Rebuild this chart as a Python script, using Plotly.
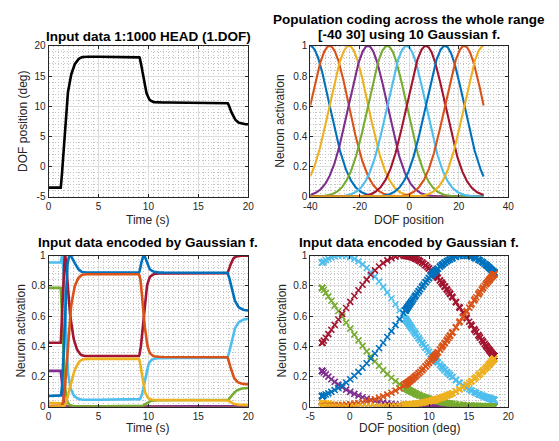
import numpy as np
import plotly.graph_objects as go

# ---------------- data ----------------
# Head trajectory (1st DOF), time in seconds and position in degrees
time_s = [
    0.0, 0.4, 0.8, 1.2,
    1.22, 1.24, 1.26, 1.28, 1.30, 1.32, 1.34, 1.36, 1.38, 1.40,
    1.42, 1.44, 1.46, 1.48, 1.50, 1.52, 1.54, 1.56, 1.58, 1.60,
    1.62, 1.64, 1.66, 1.68, 1.70, 1.72, 1.74, 1.76, 1.78, 1.80,
    1.82, 1.84, 1.86, 1.88, 1.90, 1.92, 1.94, 1.96, 1.98, 2.00,
    2.05, 2.10, 2.15, 2.20, 2.25, 2.30, 2.35, 2.40, 2.45, 2.50,
    2.55, 2.60, 2.65, 2.70, 2.75, 2.80, 2.85, 2.90, 2.95, 3.00,
    3.1, 3.2, 3.3, 3.4, 3.5, 3.6, 3.8,
    4.0, 5.0, 6.0, 7.0, 8.0, 9.0,
    9.05, 9.10, 9.15, 9.20, 9.25, 9.30, 9.35, 9.40, 9.45, 9.50,
    9.55, 9.60, 9.65, 9.70, 9.75, 9.80, 9.85, 9.90, 9.95, 10.00,
    10.1, 10.2, 10.3, 10.4, 10.5, 10.6, 10.7, 10.8,
    11.0, 11.5,
    12.0, 13.0, 14.0, 15.0, 16.0, 17.0, 17.5, 17.85,
    17.90, 17.95, 18.00, 18.05, 18.10, 18.15, 18.20, 18.25, 18.30, 18.35,
    18.40, 18.45, 18.50, 18.55, 18.60, 18.65, 18.70, 18.75, 18.80, 18.85,
    18.90, 18.95, 19.00,
    19.1, 19.2, 19.3, 19.4, 19.5, 19.6, 19.7, 19.8, 19.9, 20.0,
]
dof_deg = [
    -3.5, -3.5, -3.5, -3.5,
    -3.50, -3.30, -3.04, -2.72, -2.34, -1.92, -1.46, -0.98, -0.48, 0.04,
    0.56, 1.08, 1.60, 2.12, 2.64, 3.16, 3.68, 4.20, 4.72, 5.24,
    5.76, 6.27, 6.77, 7.27, 7.76, 8.24, 8.70, 9.14, 9.56, 9.96,
    10.34, 10.70, 11.04, 11.36, 11.66, 11.94, 12.20, 12.44, 12.67, 12.89,
    13.40, 13.87, 14.30, 14.69, 15.05, 15.38, 15.68, 15.95, 16.20, 16.43,
    16.64, 16.83, 17.00, 17.15, 17.29, 17.41, 17.52, 17.62, 17.71, 17.79,
    17.92, 18.02, 18.09, 18.14, 18.17, 18.19, 18.20,
    18.2, 18.2, 18.2, 18.2, 18.2, 18.2,
    18.20, 18.10, 17.90, 17.60, 17.22, 16.78, 16.30, 15.79, 15.27, 14.76,
    14.27, 13.80, 13.36, 12.96, 12.60, 12.28, 12.00, 11.76, 11.55, 11.37,
    11.11, 10.94, 10.83, 10.76, 10.71, 10.68, 10.66, 10.64,
    10.62, 10.60,
    10.6, 10.6, 10.6, 10.6, 10.6, 10.6, 10.6, 10.60,
    10.57, 10.49, 10.36, 10.19, 9.99, 9.77, 9.54, 9.31, 9.09, 8.88,
    8.68, 8.50, 8.33, 8.17, 8.03, 7.90, 7.78, 7.68, 7.59, 7.51,
    7.44, 7.38, 7.33,
    7.25, 7.19, 7.14, 7.10, 7.07, 7.05, 7.03, 7.02, 7.01, 7.00,
]
assert len(time_s) == len(dof_deg)

# 10 Gaussian receptive fields covering [-40 30]
gauss_centers = [-40.0, -32.2, -24.4, -16.7, -8.9, -1.1, 6.7, 14.4, 22.2, 30.0]
gauss_sigma = 7.78
dof_range = [-40.0, 30.0]

neuron_colors = ["#0072BD", "#D95319", "#EDB120", "#7E2F8E", "#77AC30",
                 "#4DBEEE", "#A2142F", "#0072BD", "#D95319", "#EDB120"]

titles = ["Input data 1:1000 HEAD (1.DOF)",
          "Population coding across the whole range",
          "[-40 30] using 10 Gaussian f.",
          "Input data encoded by Gaussian f.",
          "Input data encoded by Gaussian f."]

# ---------------- derived ----------------
t = np.array(time_s)
pos = np.array(dof_deg)
grid = np.round(np.arange(int(dof_range[0] * 10), int(dof_range[1] * 10) + 1) / 10.0, 1)


def encode(x, c):
    return np.exp(-((np.asarray(x) - c) ** 2) / (2 * gauss_sigma ** 2))


# ---------------- figure ----------------
W, H = 559, 441
FONT = "Liberation Sans, Arial, Helvetica, sans-serif"
fig = go.Figure()

# top-left: trajectory
fig.add_trace(go.Scatter(x=t, y=pos, mode="lines", line=dict(color="black", width=2.6),
                         xaxis="x", yaxis="y", showlegend=False))
# top-right: tuning curves
for c, col in zip(gauss_centers, neuron_colors):
    fig.add_trace(go.Scatter(x=grid, y=encode(grid, c), mode="lines",
                             line=dict(color=col, width=2.1),
                             xaxis="x2", yaxis="y2", showlegend=False))
# bottom-left: encoded over time
for c, col in zip(gauss_centers, neuron_colors):
    fig.add_trace(go.Scatter(x=t, y=encode(pos, c), mode="lines",
                             line=dict(color=col, width=2.6),
                             xaxis="x3", yaxis="y3", showlegend=False))
# bottom-right: encoded vs position
for c, col in zip(gauss_centers, neuron_colors):
    fig.add_trace(go.Scatter(x=pos, y=encode(pos, c), mode="markers",
                             marker=dict(symbol="x-thin", size=6, color=col,
                                         line=dict(color=col, width=1.6)),
                             xaxis="x4", yaxis="y4", showlegend=False))


def fmt(v):
    return "%g" % v


def axis(domain, rng, ticks, minor, anchor):
    return dict(domain=domain, range=rng, anchor=anchor,
                tickmode="array", tickvals=ticks, ticktext=[fmt(v) for v in ticks],
                showline=True, linecolor="#262626", linewidth=1, mirror="ticks",
                ticks="inside", ticklen=3, tickcolor="#262626", tickwidth=1,
                showgrid=True, gridcolor="#dcdcdc", gridwidth=1, zeroline=False,
                tickfont=dict(family=FONT, size=10, color="#262626"),
                minor=dict(showgrid=True, dtick=minor, gridcolor="#c4c4c4",
                           griddash="1px,2px", gridwidth=1, ticks=""),
                fixedrange=True)


xl = [42.5 / W, 247 / W]
xr = [310.5 / W, 513.3 / W]
yt = [1 - 196 / H, 1 - 41 / H]
yb = [1 - 412 / H, 1 - 256.5 / H]

act_ticks = [0, 0.2, 0.4, 0.6, 0.8, 1]
fig.update_layout(
    width=W, height=H, margin=dict(l=0, r=0, t=0, b=0),
    paper_bgcolor="white", plot_bgcolor="white",
    xaxis=axis(xl, [0, 20], [0, 5, 10, 15, 20], 0.5, "y"),
    yaxis=axis(yt, [-5, 20], [-5, 0, 5, 10, 15, 20], 1, "x"),
    xaxis2=axis(xr, [-40, 40], [-40, -20, 0, 20, 40], 2, "y2"),
    yaxis2=axis(yt, [0, 1], act_ticks, 0.04, "x2"),
    xaxis3=axis(xl, [0, 20], [0, 5, 10, 15, 20], 0.5, "y3"),
    yaxis3=axis(yb, [0, 1], act_ticks, 0.04, "x3"),
    xaxis4=axis(xr, [-5, 20], [-5, 0, 5, 10, 15, 20], 0.5, "y4"),
    yaxis4=axis(yb, [0, 1], act_ticks, 0.04, "x4"),
)

ann = []


def text(s, xpx, ypx, size, bold=False, angle=0, color="black"):
    ann.append(dict(text=("<b>%s</b>" % s) if bold else s, x=xpx / W, y=1 - ypx / H,
                    xref="paper", yref="paper", xanchor="center", yanchor="middle",
                    showarrow=False, textangle=angle, borderpad=0,
                    font=dict(family=FONT, size=size, color=color)))


cxl = (42.5 + 247) / 2
cxr = (310.5 + 513.3) / 2
text(titles[0], cxl, 31, 13.5, bold=True)
text(titles[1], cxr, 14, 13.5, bold=True)
text(titles[2], cxr, 29.5, 13.5, bold=True)
text(titles[3], cxl, 243.5, 13.5, bold=True)
text(titles[4], cxr, 243.5, 13.5, bold=True)
text("Time (s)", cxl, 219.5, 12, color="#262626")
text("DOF position", cxr, 219.5, 12, color="#262626")
text("Time (s)", cxl, 434, 12, color="#262626")
text("DOF position (deg)", cxr, 434, 12, color="#262626")
text("DOF position (deg)", 17, 118.5, 12, angle=-90, color="#262626")
text("Neuron activation", 280, 118.5, 12, angle=-90, color="#262626")
text("Neuron activation", 14, 334, 12, angle=-90, color="#262626")
text("Neuron activation", 281, 334, 12, angle=-90, color="#262626")
fig.update_layout(annotations=ann)

fig.write_html("out.html")
